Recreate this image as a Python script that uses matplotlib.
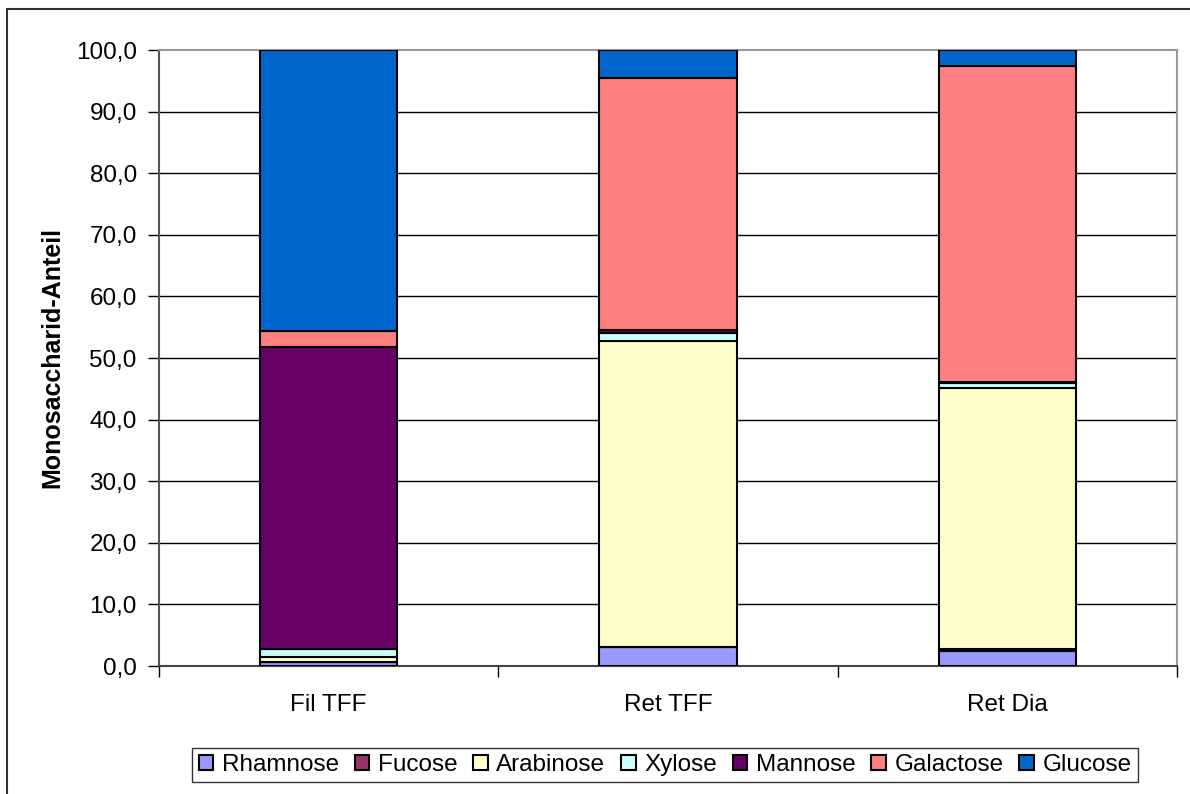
import matplotlib
matplotlib.use("Agg")
import matplotlib.pyplot as plt
from matplotlib.patches import Patch, Rectangle
import numpy as np

plt.rcParams['font.family'] = ['Liberation Sans', 'DejaVu Sans']

categories = ["Fil TFF", "Ret TFF", "Ret Dia"]
sugars = ["Rhamnose", "Fucose", "Arabinose", "Xylose", "Mannose", "Galactose", "Glucose"]
colors = ["#9999FF", "#993366", "#FFFFCC", "#CCFFFF", "#660066", "#FF8080", "#0066CC"]

rhamnose = [0.6, 3.1, 2.4]
fucose = [0.1, 0.0, 0.4]
arabinose = [0.8, 49.7, 42.3]
xylose = [1.3, 1.2, 0.8]
mannose = [49.0, 0.5, 0.2]
galactose = [2.6, 41.0, 51.3]
glucose = [45.6, 4.5, 2.6]
series = [rhamnose, fucose, arabinose, xylose, mannose, galactose, glucose]

fig = plt.figure(figsize=(11.9, 7.94), dpi=100)
ax = fig.add_axes([159 / 1190, 1 - 666 / 794, (1177 - 159) / 1190, (666 - 50) / 794])

x = np.arange(len(categories))
bottom = np.zeros(len(categories))
for name, vals, c in zip(sugars, series, colors):
    ax.bar(x, vals, width=0.405, bottom=bottom, color=c, edgecolor="black",
           linewidth=1.5, label=name, zorder=3)
    bottom += np.array(vals)

ax.set_xlim(-0.5, 2.5)
ax.set_ylim(0, 100)
ax.set_yticks(np.arange(0, 101, 10))
ax.set_yticklabels([f"{v:.1f}".replace(".", ",") for v in np.arange(0, 101, 10)], fontsize=17.5)
for v in range(10, 100, 10):
    ax.axhline(v, color="black", lw=1, zorder=1)

ax.set_xticks(x)
ax.set_xticklabels(categories, fontsize=17.5)
ax.tick_params(axis="x", length=0, pad=20)
ax.set_xticks([-0.5, 0.5, 1.5, 2.5], minor=True)
ax.tick_params(axis="x", which="minor", length=8, width=1, color="black")
ax.tick_params(axis="y", length=8, width=1, color="black", pad=8)

ax.spines["left"].set_color("#555555")
ax.spines["left"].set_linewidth(1.5)
ax.spines["bottom"].set_color("#444444")
ax.spines["bottom"].set_linewidth(1.5)
ax.spines["top"].set_color("#999999")
ax.spines["right"].set_color("#999999")
ax.spines["top"].set_linewidth(1.5)
ax.spines["right"].set_linewidth(1.5)

ax.set_ylabel("Monosaccharid-Anteil", fontsize=18, fontweight="bold", labelpad=8)

handles = [Patch(facecolor=c, edgecolor="black", linewidth=1.5) for c in colors]
leg = fig.legend(handles, sugars, loc="center", bbox_to_anchor=(665 / 1190, 1 - 765 / 794),
                 ncol=7, fontsize=17.5, frameon=True, fancybox=False, edgecolor="black",
                 handlelength=0.6, handleheight=0.6, handletextpad=0.35, columnspacing=0.65,
                 borderpad=0.25, borderaxespad=0)
leg.get_frame().set_linewidth(1)

fig.patches.append(Rectangle((7 / 1190, -0.05), 1.1, 1 - 9 / 794 + 0.05, transform=fig.transFigure,
                             fill=False, edgecolor="#333333", linewidth=1.5))

fig.savefig("out.png", dpi=100)
